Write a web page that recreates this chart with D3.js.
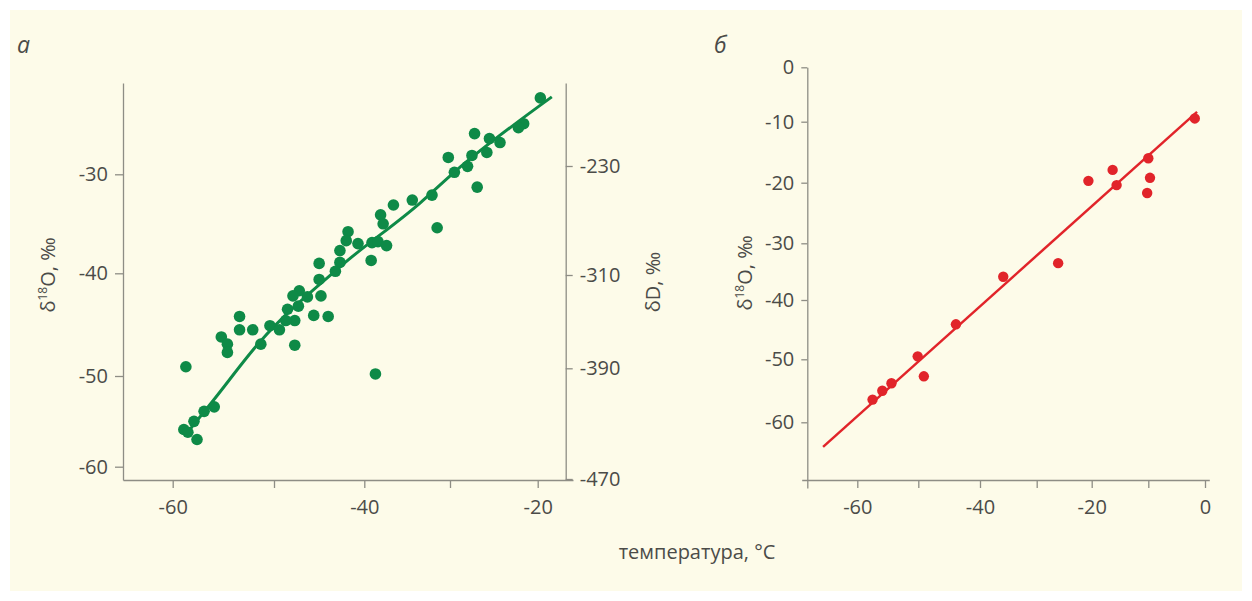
<!DOCTYPE html>
<html>
<head>
<meta charset="utf-8">
<script src="https://cdn.jsdelivr.net/npm/d3@7"></script>
<style>
	body { margin: 0; background: #ffffff; }
	text { font-family: 'Open Sans', sans-serif; fill: #4b4b48; }
</style>
</head>
<body>
<div id="chart"></div>
<script>
// panel а: temperature (°C) vs δ18O (‰), green dots
const tempA = [
	-19.7, -21.6, -22.2, -27.2, -25.5, -24.3, -25.8, -27.5, -30.2, -28.0,
	-29.5, -26.9, -32.1, -34.4, -36.6, -38.1, -37.8, -31.5, -40.7, -39.1,
	-38.4, -37.4, -39.2, -41.8, -42.0, -42.7, -42.7, -43.2, -45.0, -45.0,
	-47.2, -47.9, -46.3, -44.8, -47.3, -48.5, -47.7, -48.7, -45.6, -44.0,
	-50.4, -49.4, -53.4, -53.4, -52.1, -55.2, -54.6, -54.6, -51.3, -47.7,
	-58.7, -38.7, -55.9, -56.9, -57.9, -58.9, -58.5, -57.6
];
const d18OA = [
	-22.3, -24.9, -25.3, -25.9, -26.4, -26.8, -27.8, -28.1, -28.3, -29.2,
	-29.8, -31.3, -32.1, -32.6, -33.1, -34.1, -35.0, -35.4, -37.0, -36.9,
	-36.8, -37.2, -38.7, -35.8, -36.7, -37.7, -38.9, -39.8, -39.0, -40.6,
	-41.7, -42.2, -42.3, -42.2, -43.2, -43.5, -44.6, -44.6, -44.1, -44.2,
	-45.1, -45.5, -44.2, -45.5, -45.5, -46.2, -46.9, -47.7, -46.9, -47.0,
	-49.1, -49.8, -53.4, -53.9, -55.0, -55.9, -56.2, -57.0
];
// fitted curve of panel а
const fitTempA = [-58.6, -56.0, -51.5, -42.5, -33.5, -29.4, -18.4];
const fitD18OA = [-56.3, -52.7, -46.8, -39.2, -32.9, -29.7, -22.2];

// panel б: temperature (°C) vs δ18O (‰), red dots
const tempB = [-1.8, -10.0, -16.3, -20.6, -15.6, -9.7, -10.2, -26.1, -35.9, -43.9, -50.1, -49.1, -54.4, -55.9, -57.5];
const d18OB = [-9.4, -16.0, -17.9, -19.7, -20.4, -19.2, -21.7, -33.5, -35.9, -44.1, -49.5, -52.7, -53.8, -55.0, -56.4];
const fitTempB = [-65.6, -1.4];
const fitD18OB = [-63.9, -8.2];

// tick labels
const ticksAx = [-60, -50, -40, -30, -20];
const ticksAy = [-60, -50, -40, -30];
const ticksAdD = [-470, -390, -310, -230];
const ticksBx = [-60, -50, -40, -30, -20, -10, 0];
const ticksBy = [0, -10, -20, -30, -40, -50, -60];

const width = 1252, height = 601;
const green = '#0e8a47', red = '#e1242a', axisColor = '#8e8d85';

const svg = d3
	.select('#chart')
	.append('svg')
	.attr('width', width)
	.attr('height', height);

// cream panel
svg.append('rect')
	.attr('x', 10).attr('y', 10)
	.attr('width', width - 20).attr('height', height - 20)
	.attr('fill', '#fdfbe9');

// scales follow the uneven tick spacing of the printed figure
const xA = d3.scaleLinear()
	.domain([-64.9, -60, -50, -40, -30, -20, -16])
	.range([123, 172.7, 274, 364.3, 450, 537.7, 573]);
const yA = d3.scaleLinear()
	.domain([-61.5, -60, -50, -40, -30, -20.8])
	.range([480, 466.7, 376, 273.3, 174.3, 83]);
const yAdD = d3.scaleLinear()
	.domain([-471.3, -470, -390, -310, -230, -169])
	.range([480, 479, 368.3, 275, 166, 83]);
const xB = d3.scaleLinear()
	.domain([-69.1, -60, -50, -40, -30, -20, -10, 0, 0.76])
	.range([801.7, 857.3, 918.3, 980, 1036.7, 1091.7, 1148.3, 1205, 1209.3]);
const yB = d3.scaleLinear()
	.domain([-70.4, -60, -50, -40, -30, -20, -10, 0])
	.range([488, 422.3, 359.3, 300, 243.3, 182.7, 121.7, 67.3]);

const fmt = d => String(d);
const every20 = d => (d % 20 === 0 ? String(d) : '');

function styleAxis(g) {
	g.attr('font-family', null).attr('font-size', null);
	g.selectAll('path, line').attr('stroke', axisColor).attr('stroke-width', 1.3);
	g.selectAll('text').style('font-size', '20px');
}

// panel а axes
svg.append('g')
	.attr('transform', 'translate(123,0)')
	.call(d3.axisLeft(yA).tickValues(ticksAy).tickFormat(fmt).tickSize(8).tickPadding(7).tickSizeOuter(0))
	.call(styleAxis);
svg.append('g')
	.attr('transform', 'translate(565.7,0)')
	.call(d3.axisRight(yAdD).tickValues(ticksAdD).tickFormat(fmt).tickSize(7).tickPadding(7).tickSizeOuter(0))
	.call(styleAxis);
svg.append('g')
	.attr('transform', 'translate(0,480)')
	.call(d3.axisBottom(xA).tickValues(ticksAx).tickFormat(every20).tickSize(8).tickPadding(12).tickSizeOuter(0))
	.call(styleAxis);

// panel б axes
svg.append('g')
	.attr('transform', 'translate(807.3,0)')
	.call(d3.axisLeft(yB).tickValues(ticksBy).tickFormat(fmt).tickSize(6).tickPadding(7).tickSizeOuter(0))
	.call(styleAxis);
svg.append('g')
	.attr('transform', 'translate(0,480)')
	.call(d3.axisBottom(xB).tickValues(ticksBx).tickFormat(every20).tickSize(8).tickPadding(12).tickSizeOuter(0))
	.call(styleAxis);

// fit lines
const fitA = fitTempA.map((t, i) => [t, fitD18OA[i]]);
svg.append('path')
	.datum(fitA)
	.attr('fill', 'none')
	.attr('stroke', green)
	.attr('stroke-width', 3)
	.attr('d', d3.line().x(d => xA(d[0])).y(d => yA(d[1])).curve(d3.curveMonotoneX));

const fitB = fitTempB.map((t, i) => [t, fitD18OB[i]]);
svg.append('path')
	.datum(fitB)
	.attr('fill', 'none')
	.attr('stroke', red)
	.attr('stroke-width', 2.5)
	.attr('d', d3.line().x(d => xB(d[0])).y(d => yB(d[1])));

// dots
svg.append('g')
	.selectAll('circle')
	.data(tempA.map((t, i) => [t, d18OA[i]]))
	.join('circle')
	.attr('cx', d => xA(d[0]))
	.attr('cy', d => yA(d[1]))
	.attr('r', 5.8)
	.attr('fill', green);

svg.append('g')
	.selectAll('circle')
	.data(tempB.map((t, i) => [t, d18OB[i]]))
	.join('circle')
	.attr('cx', d => xB(d[0]))
	.attr('cy', d => yB(d[1]))
	.attr('r', 5.2)
	.attr('fill', red);

// axis titles
function isoTitle(x, y) {
	const t = svg.append('text')
		.attr('transform', `translate(${x},${y}) rotate(-90)`)
		.attr('text-anchor', 'middle')
		.style('font-size', '20px');
	t.append('tspan').text('δ');
	t.append('tspan').attr('dy', -8).style('font-size', '12px').text('18');
	t.append('tspan').attr('dy', 8).text('O, ‰');
}
isoTitle(55, 275);
isoTitle(752, 273);

svg.append('text')
	.attr('transform', 'translate(660,282) rotate(-90)')
	.attr('text-anchor', 'middle')
	.style('font-size', '20px')
	.text('δD, ‰');

svg.append('text')
	.attr('x', 697).attr('y', 559)
	.attr('text-anchor', 'middle')
	.style('font-size', '20px')
	.text('температура, °C');

// panel letters
svg.append('text')
	.attr('x', 17).attr('y', 53)
	.style('font-size', '23px').style('font-style', 'italic')
	.text('а');
svg.append('text')
	.attr('x', 714).attr('y', 53)
	.style('font-size', '23px').style('font-style', 'italic')
	.text('б');
</script>
</body>
</html>
